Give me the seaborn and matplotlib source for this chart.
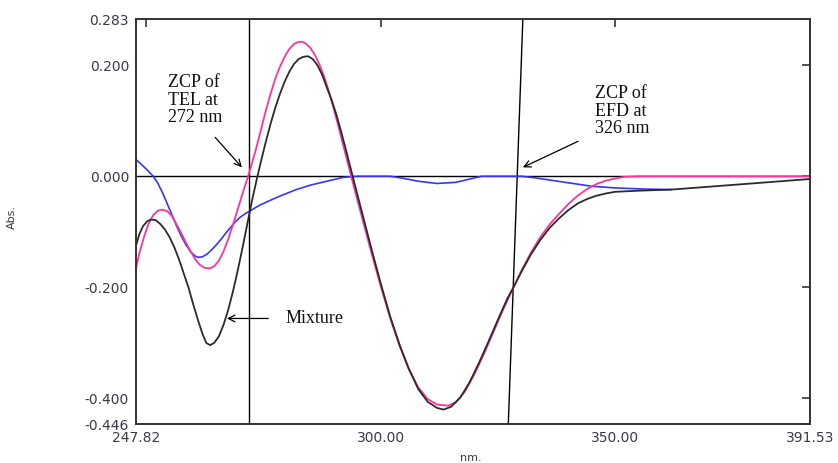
import numpy as np
import pandas as pd
import matplotlib
matplotlib.use("Agg")
import matplotlib.pyplot as plt
import seaborn as sns

# Mixture (black)
mix_nm = [247.82, 248.5, 249.3, 250.2, 251, 252, 253, 254, 255, 256, 257, 258, 259, 260, 261, 262,
          262.8, 263.6, 264.5, 265.5, 266.5, 267.5, 268.5, 269.5, 270.5, 271.5, 272.5, 273.5, 274.5,
          275.5, 276.5, 277.5, 278.5, 279.5, 280.5, 281.5, 282.5, 283.5, 284.5, 285.5, 286.5, 287.5,
          288.5, 289.5, 290.5, 291.5, 292.5, 293.5, 294.5, 296, 298, 300, 302, 304, 306, 308, 310,
          312, 313.4, 315, 317, 319, 321, 323, 325, 327, 328.3, 330, 332, 334, 336, 338, 340, 342,
          344, 346, 348, 350, 355, 362, 391.53]
mix_abs = [-0.125, -0.105, -0.090, -0.081, -0.078, -0.079, -0.086, -0.096, -0.110, -0.128, -0.150,
           -0.175, -0.200, -0.230, -0.258, -0.284, -0.300, -0.304, -0.300, -0.288, -0.267, -0.240,
           -0.207, -0.170, -0.130, -0.088, -0.046, -0.008, 0.028, 0.062, 0.094, 0.123, 0.148, 0.170,
           0.188, 0.202, 0.211, 0.215, 0.216, 0.211, 0.200, 0.183, 0.160, 0.138, 0.112, 0.082,
           0.050, 0.017, -0.016, -0.065, -0.130, -0.193, -0.252, -0.303, -0.347, -0.383, -0.406,
           -0.417, -0.420, -0.415, -0.398, -0.370, -0.335, -0.297, -0.258, -0.220, -0.200, -0.172,
           -0.141, -0.115, -0.093, -0.076, -0.061, -0.049, -0.041, -0.035, -0.031, -0.028, -0.026,
           -0.024, -0.005]

# EFD spectrum (pink)
efd_nm = [247.82, 248.5, 249.5, 250.5, 251.5, 252.5, 253.4, 254.5, 255.5, 256.5, 257.5, 258.5, 259.5,
          260.5, 261.5, 262.5, 263.6, 264.5, 265.5, 266.5, 267.5, 268.5, 269.5, 270.5, 271.5, 272.5,
          273.5, 274.5, 275.5, 276.5, 277.5, 278.5, 279.5, 280.5, 281.5, 282.5, 283.3, 284, 285, 286,
          287, 288, 289, 290, 291, 292, 293, 294, 296, 298, 300, 302, 304, 306, 308, 310, 312, 314.4,
          316, 318, 320, 322, 324, 326, 328.3, 330, 332, 334, 336, 338, 340, 342, 344, 346, 348, 350,
          352, 355, 391.53]
efd_abs = [-0.166, -0.140, -0.110, -0.085, -0.070, -0.062, -0.060, -0.063, -0.072, -0.087, -0.103,
           -0.120, -0.136, -0.150, -0.160, -0.165, -0.166, -0.162, -0.152, -0.135, -0.113, -0.087,
           -0.060, -0.032, -0.006, 0.022, 0.052, 0.085, 0.118, 0.148, 0.175, 0.197, 0.215, 0.229,
           0.238, 0.242, 0.242, 0.239, 0.231, 0.218, 0.200, 0.178, 0.151, 0.121, 0.089, 0.056,
           0.023, -0.010, -0.074, -0.137, -0.198, -0.255, -0.305, -0.347, -0.380, -0.401, -0.411,
           -0.413, -0.407, -0.387, -0.356, -0.320, -0.281, -0.242, -0.200, -0.170, -0.138, -0.110,
           -0.087, -0.068, -0.050, -0.035, -0.023, -0.014, -0.008, -0.004, -0.001, 0.000, 0.000]

# TEL spectrum (blue)
tel_nm = [247.82, 249, 250, 251.5, 252.5, 253.5, 254.5, 255.5, 256.5, 257.5, 258.5, 259.5, 260.3,
          261, 262, 263, 264, 265, 266, 267, 268, 269, 270, 271, 272, 273, 274, 276, 279, 282, 285,
          288, 290, 292, 295, 302, 305, 308, 312, 316, 319, 321.5, 330, 333, 337, 341, 345, 350,
          356, 362]
tel_abs = [0.030, 0.021, 0.013, 0.000, -0.013, -0.030, -0.050, -0.070, -0.090, -0.108, -0.124,
           -0.136, -0.143, -0.146, -0.145, -0.140, -0.132, -0.123, -0.113, -0.102, -0.092, -0.082,
           -0.074, -0.068, -0.063, -0.058, -0.053, -0.045, -0.034, -0.024, -0.016, -0.010, -0.006,
           -0.002, 0.000, 0.000, -0.004, -0.009, -0.013, -0.011, -0.005, 0.000, 0.000, -0.003,
           -0.008, -0.013, -0.018, -0.021, -0.023, -0.024]

x_ticks = [247.82, 300.00, 350.00, 391.53]
y_ticks = [-0.446, -0.400, -0.200, 0.000, 0.200, 0.283]

sns.set_theme(style="white")
plt.rcParams["font.family"] = ["DejaVu Sans"]

fig = plt.figure(figsize=(8.38, 4.63), dpi=100)
ax = fig.add_axes([0.1623, 0.0842, 0.8043, 0.8747])

sns.lineplot(x=tel_nm, y=tel_abs, ax=ax, color="#3535ff", linewidth=1.2)
sns.lineplot(x=efd_nm, y=efd_abs, ax=ax, color="#ff3399", linewidth=1.3)
sns.lineplot(x=mix_nm, y=mix_abs, ax=ax, color="#2b2b2b", linewidth=1.3)

# reference lines
ax.axhline(0, color="black", linewidth=1.0, zorder=1)
ax.axvline(272, color="black", linewidth=1.0, zorder=1)
ax.plot([330.3, 327.2], [0.283, -0.446], color="black", linewidth=1.0, zorder=1)

ax.set_xlim(247.82, 391.53)
ax.set_ylim(-0.446, 0.283)
ax.set_xticks(x_ticks)
ax.set_xticklabels([f"{v:.2f}" for v in x_ticks])
ax.set_xticks([250], minor=True)
ax.set_yticks(y_ticks)
ax.set_yticklabels([f"{v:.3f}" for v in y_ticks])
ax.tick_params(which="both", direction="in", length=6, width=1.2, top=True, right=True,
               labelsize=10, labelcolor="#3a3a48", color="#333333", pad=5)
for s in ax.spines.values():
    s.set_color("#333333")
    s.set_linewidth(1.4)

ax.set_xlabel("nm.", fontsize=8, color="#3a3a48")
ax.set_ylabel("Abs.", fontsize=8, color="#3a3a48")
ax.xaxis.set_label_coords(0.496, -0.072)
ax.yaxis.set_label_coords(-0.177, 0.51)

serif = dict(family="Liberation Serif", fontsize=13, color="#111111", linespacing=1.05)
arrow = dict(arrowstyle="->", color="black", lw=0.9, shrinkA=0, shrinkB=0)

ax.text(254.6, 0.184, "ZCP of\nTEL at\n272 nm", ha="left", va="top", **serif)
ax.annotate("", xy=(270.4, 0.016), xytext=(264.7, 0.070), arrowprops=arrow)

ax.text(345.7, 0.164, "ZCP of\nEFD at\n326 nm", ha="left", va="top", **serif)
ax.annotate("", xy=(330.3, 0.016), xytext=(342.1, 0.063), arrowprops=arrow)

ax.text(279.6, -0.256, "Mixture", ha="left", va="center", **serif)
ax.annotate("", xy=(267.2, -0.256), xytext=(276.0, -0.256), arrowprops=arrow)

fig.savefig("out.png", dpi=100)
